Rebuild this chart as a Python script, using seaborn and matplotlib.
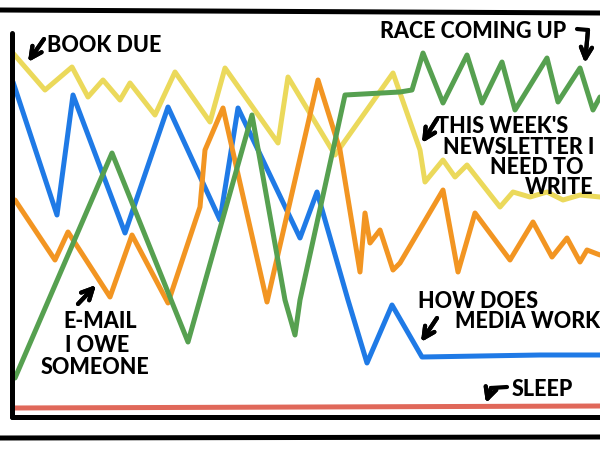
import numpy as np
import pandas as pd
import seaborn as sns
import matplotlib.pyplot as plt

# values: x runs 0..588 along the axis, y 0..384 up the axis
book_x = [0, 33, 60, 76, 91, 108, 118, 143, 163, 198, 213, 266, 276, 323, 381, 408,
          413, 431, 443, 455, 488, 501, 518, 535, 551, 568, 588]
book_y = [365, 327, 350, 320, 337, 317, 334, 302, 345, 295, 349, 274, 340, 262, 344, 267,
          235, 257, 240, 252, 210, 225, 220, 225, 217, 222, 220]

media_x = [1, 45, 61, 113, 156, 208, 226, 288, 305, 336, 355, 380, 410, 468, 528, 588]
media_y = [335, 202, 322, 184, 310, 197, 309, 179, 225, 117, 54, 112, 60, 61, 62, 62]

email_x = [3, 43, 56, 98, 120, 156, 188, 193, 211, 255, 306, 328, 348, 353, 358, 368,
           381, 388, 431, 446, 463, 498, 521, 540, 555, 568, 575, 588]
email_y = [217, 157, 185, 120, 182, 114, 210, 267, 309, 115, 337, 267, 145, 204, 174, 187,
           147, 154, 227, 145, 204, 157, 195, 160, 179, 155, 167, 162]

race_x = [3, 100, 176, 240, 273, 283, 288, 321, 333, 388, 400, 411, 431, 455, 470, 490,
          503, 535, 546, 568, 581, 588]
race_y = [39, 264, 75, 302, 117, 82, 117, 267, 322, 325, 327, 364, 314, 362, 314, 355,
          307, 359, 315, 349, 307, 320]

sleep_x = [0, 300, 588]
sleep_y = [9, 10, 11]

series = [
    (book_x, book_y, "#ebd95b"),
    (media_x, media_y, "#1f7ae6"),
    (email_x, email_y, "#f29522"),
    (race_x, race_y, "#56a050"),
    (sleep_x, sleep_y, "#e0685a"),
]

sns.set_style("white")
plt.rcParams['font.family'] = ['Lato', 'DejaVu Sans']

fig = plt.figure(figsize=(6, 4.5), dpi=100)
ax = fig.add_axes([12 / 600, 1 - 417 / 450, 1.0, (417 - 33) / 450])

for xs, ys, col in series:
    sns.lineplot(x=xs, y=ys, color=col, lw=3.6, ax=ax, solid_capstyle='round',
                 solid_joinstyle='round')

ax.set_xlim(0, 600)
ax.set_ylim(0, 384)
ax.set_xticks([])
ax.set_yticks([])
for s in ['top', 'right']:
    ax.spines[s].set_visible(False)
for s in ['left', 'bottom']:
    ax.spines[s].set_linewidth(3.6)
    ax.spines[s].set_color('black')
    ax.spines[s].set_capstyle('round')


def P(px, py):
    # pixel position on the 600x450 canvas -> figure fraction
    return (px / 600, 1 - py / 450)


# panel border lines
fig.add_artist(plt.Line2D([0, 1], [1 - 10 / 450, 1 - 13 / 450], color='black', lw=3.6))
fig.add_artist(plt.Line2D([0, 1], [1 - 438 / 450, 1 - 437 / 450], color='black', lw=3.6))

tkw = dict(fontsize=15.5, fontweight='black', color='black', va='center')


def label(txt, px, py, ha='left'):
    fig.text(*P(px, py), txt, ha=ha, **tkw)


def arrow(pts):
    # hand-drawn style arrow: polyline through pts, open head at the last point
    xs = [P(*p)[0] for p in pts]
    ys = [P(*p)[1] for p in pts]
    if len(pts) > 2:
        fig.add_artist(plt.Line2D(xs[:-1], ys[:-1], color='black', lw=3,
                                  solid_capstyle='round', solid_joinstyle='round'))
    fig.add_artist(plt.annotate('', xy=(xs[-1], ys[-1]), xytext=(xs[-2], ys[-2]),
                                xycoords='figure fraction', textcoords='figure fraction',
                                arrowprops=dict(arrowstyle='->', lw=3, color='black',
                                                mutation_scale=20, shrinkA=0, shrinkB=0,
                                                capstyle='round', joinstyle='round')))


label("BOOK DUE", 47, 46)
arrow([(44, 39), (28, 62)])

label("RACE COMING UP", 380, 32)
arrow([(577, 29), (588, 30), (585, 63)])

label("THIS WEEK'S", 436, 127)
label("NEWSLETTER I", 443, 148)
label("NEED TO", 490, 168)
label("WRITE", 525, 188)
arrow([(437, 119), (422, 143)])

label("HOW DOES", 418, 301)
label("MEDIA WORK", 455, 322)
arrow([(437, 318), (421, 342)])

label("E-MAIL", 100, 322, ha='center')
label("I OWE", 97, 345, ha='center')
label("SOMEONE", 95, 368, ha='center')
arrow([(78, 304), (96, 285)])

label("SLEEP", 512, 390)
arrow([(507, 387), (491, 388), (486, 403)])

fig.savefig("out.png", dpi=100)
